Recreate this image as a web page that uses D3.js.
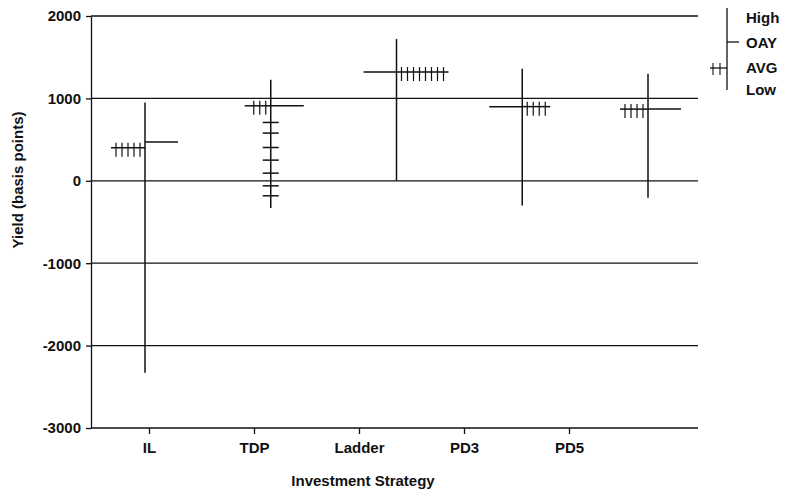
<!DOCTYPE html>
<html>
<head>
<meta charset="utf-8">
<script src="https://cdn.jsdelivr.net/npm/d3@7"></script>
<style>
  body { margin: 0; background: #fff; }
  text { font-family: "Liberation Sans", Arial, sans-serif; font-weight: bold; fill: #111; }
</style>
</head>
<body>
<svg id="drawing_region"></svg>
<script>
// data
const categories = ["IL", "TDP", "Ladder", "PD3", "PD5"];
const high = [950, 1225, 1720, 1360, 1300];
const low = [-2330, -330, 0, -300, -205];
const avg = [400, 910, 1320, 900, 870];
const oay = [470, 910, 1320, 900, 870];
const avgSide = ["left", "left", "right", "right", "left"];
const avgHatches = [5, 3, 8, 4, 4];
const tdpValues = [708, 579, 404, 251, 93, -61, -182];
const yTicks = [-3000, -2000, -1000, 0, 1000, 2000];

const svg = d3.select('#drawing_region')
    .attr('width', 786)
    .attr('height', 496);

const left = 91, right = 698;
const fs = 15;

const yscale = d3.scaleLinear()
    .domain([-3000, 2000])
    .range([428, 16]);

// axis tick positions
const xscale = d3.scalePoint()
    .domain(categories)
    .range([149, 569]);

// the marks sit a bit to the right of the axis ticks in the original
const mscale = d3.scalePoint()
    .domain(categories)
    .range([145, 648]);

// gridlines (bottom one doubles as x axis line)
svg.append('g').selectAll('line')
    .data(yTicks)
    .enter().append('line')
    .attr('x1', left).attr('x2', right)
    .attr('y1', d => yscale(d)).attr('y2', d => yscale(d))
    .attr('stroke', '#111')
    .attr('stroke-width', 1.3);

const yaxis = d3.axisLeft(yscale)
    .tickValues(yTicks)
    .tickSize(5)
    .tickSizeOuter(0)
    .tickPadding(5)
    .tickFormat(d => String(d));

const yg = svg.append('g')
    .attr('transform', `translate(${left},0)`)
    .call(yaxis);
yg.selectAll('path, line').attr('stroke', '#111').attr('stroke-width', 1.3);
yg.selectAll('text').attr('font-size', fs).attr('fill', '#111')
    .style('font-family', '"Liberation Sans", Arial, sans-serif').style('font-weight', 'bold');

const xaxis = d3.axisBottom(xscale)
    .tickSize(6)
    .tickSizeOuter(0)
    .tickPadding(8);

const xg = svg.append('g')
    .attr('transform', `translate(0,${yscale(-3000)})`)
    .call(xaxis);
xg.select('.domain').remove();
xg.selectAll('line').attr('stroke', '#111').attr('stroke-width', 1.3);
xg.selectAll('text').attr('font-size', fs).attr('fill', '#111')
    .style('font-family', '"Liberation Sans", Arial, sans-serif').style('font-weight', 'bold');

svg.append('text')
    .attr('x', 363).attr('y', 486)
    .attr('text-anchor', 'middle')
    .attr('font-size', fs)
    .text('Investment Strategy');

svg.append('text')
    .attr('transform', 'translate(23,180) rotate(-90)')
    .attr('text-anchor', 'middle')
    .attr('font-size', fs)
    .text('Yield (basis points)');

// marks
const data = categories.map((c, i) => ({
    cat: c, high: high[i], low: low[i], avg: avg[i], oay: oay[i],
    side: avgSide[i], hatches: avgHatches[i]
}));

const plain = 33, step = 6;
const marks = svg.append('g').attr('stroke', '#111').attr('stroke-width', 1.5);

const grp = marks.selectAll('g').data(data).enter().append('g')
    .attr('transform', d => `translate(${mscale(d.cat)},0)`);

grp.append('line')
    .attr('x1', 0).attr('x2', 0)
    .attr('y1', d => yscale(d.high)).attr('y2', d => yscale(d.low));

// OAY: plain tick on the side opposite the hatched AVG tick
grp.append('line')
    .attr('x1', 0)
    .attr('x2', d => d.side === 'left' ? plain : -plain)
    .attr('y1', d => yscale(d.oay)).attr('y2', d => yscale(d.oay));

grp.append('line')
    .attr('x1', 0)
    .attr('x2', d => (d.side === 'left' ? -1 : 1) * Math.max(26, d.hatches * step + 4))
    .attr('y1', d => yscale(d.avg)).attr('y2', d => yscale(d.avg));

grp.each(function(d) {
    const dir = d.side === 'left' ? -1 : 1;
    d3.select(this).selectAll('line.hatch')
        .data(d3.range(d.hatches))
        .enter().append('line')
        .attr('class', 'hatch')
        .attr('stroke-width', 1.2)
        .attr('x1', k => dir * (5 + k * step)).attr('x2', k => dir * (5 + k * step))
        .attr('y1', yscale(d.avg) - 5).attr('y2', yscale(d.avg) + 9);
});

// extra TDP values marked along its range
marks.append('g').selectAll('line')
    .data(tdpValues)
    .enter().append('line')
    .attr('x1', mscale('TDP') - 8).attr('x2', mscale('TDP') + 8)
    .attr('y1', d => yscale(d)).attr('y2', d => yscale(d));

// legend
const lg = svg.append('g');
const lx = 727;
lg.append('line').attr('x1', lx).attr('x2', lx).attr('y1', 8).attr('y2', 90)
    .attr('stroke', '#111').attr('stroke-width', 1.3);
lg.append('line').attr('x1', lx).attr('x2', lx + 12).attr('y1', 42).attr('y2', 42)
    .attr('stroke', '#111').attr('stroke-width', 1.3);
lg.append('line').attr('x1', lx - 17).attr('x2', lx).attr('y1', 68).attr('y2', 68)
    .attr('stroke', '#111').attr('stroke-width', 1.3);
lg.selectAll('line.h').data([-14, -7]).enter().append('line')
    .attr('class', 'h')
    .attr('x1', d => lx + d).attr('x2', d => lx + d)
    .attr('y1', 63).attr('y2', 75)
    .attr('stroke', '#111').attr('stroke-width', 1.1);
lg.selectAll('text').data(["High", "OAY", "AVG", "Low"]).enter().append('text')
    .attr('x', 746)
    .attr('y', (d, i) => [18, 43, 68, 90][i])
    .attr('dy', '0.35em')
    .attr('font-size', fs)
    .text(d => d);
</script>
</body>
</html>
